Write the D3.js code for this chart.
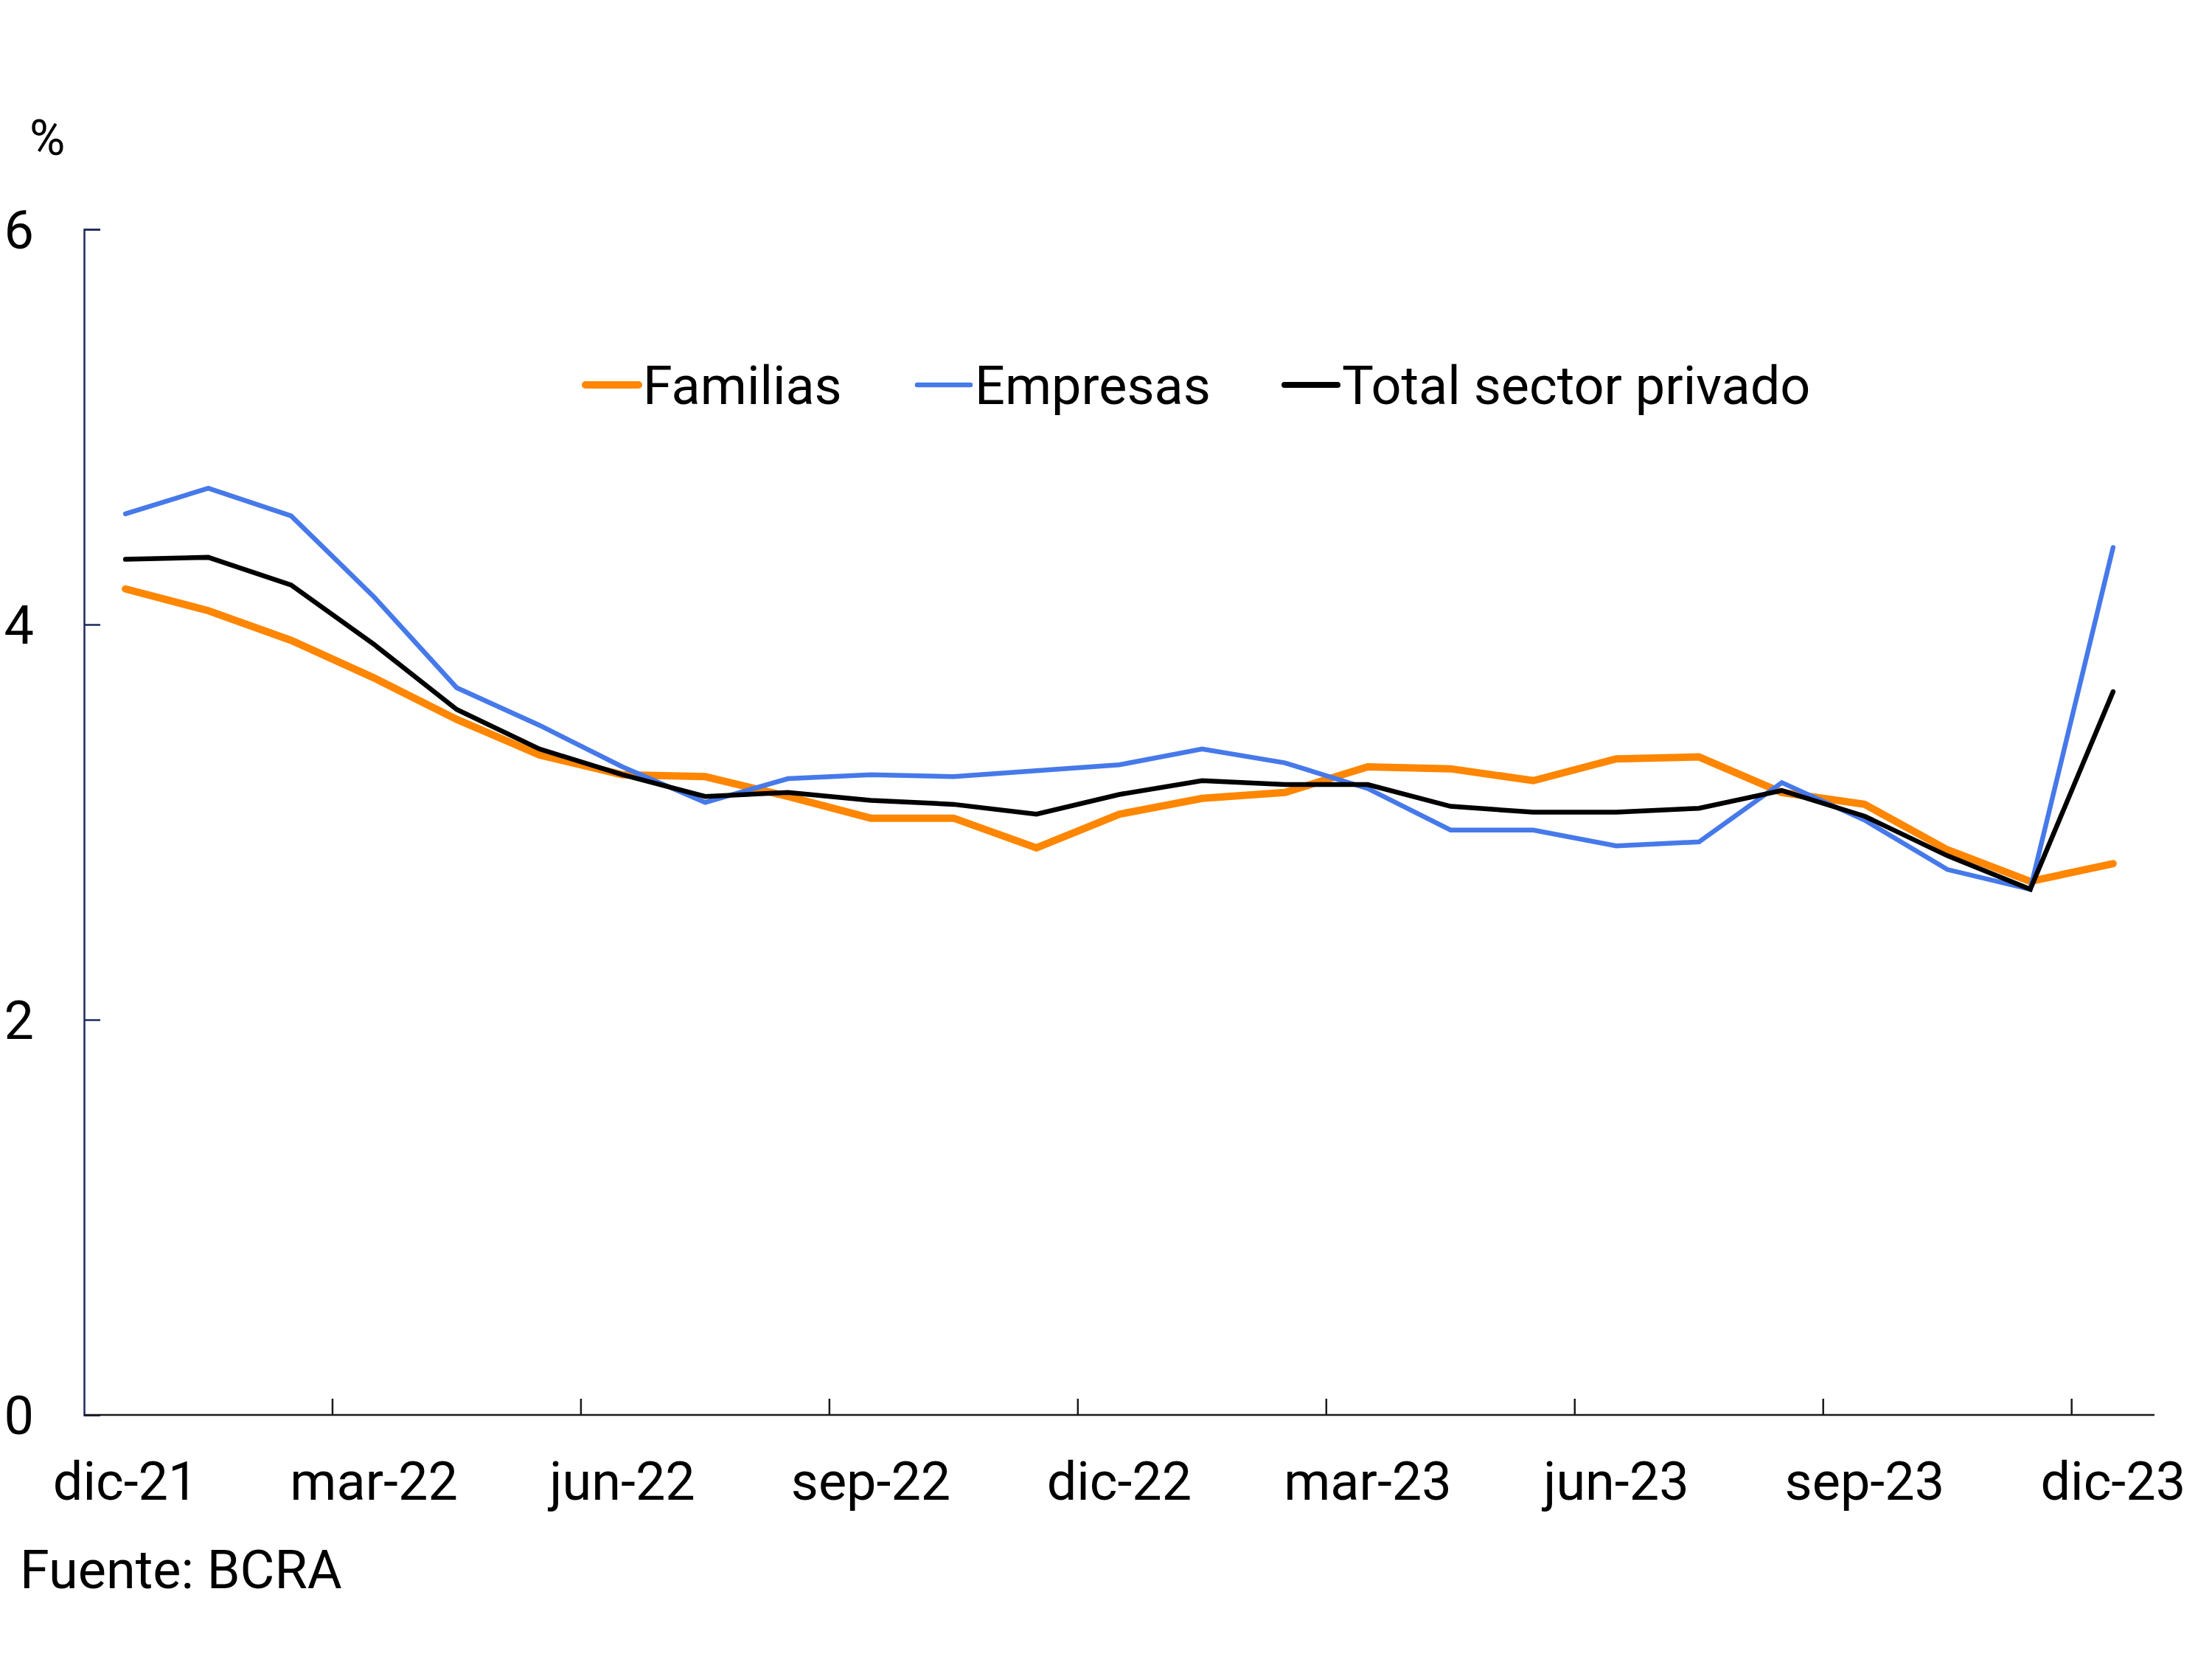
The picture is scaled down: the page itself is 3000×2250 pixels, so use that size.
<!DOCTYPE html>
<html>
<head>
<meta charset="utf-8">
<script src="https://cdn.jsdelivr.net/npm/d3@7"></script>
<style>
  html, body { margin: 0; padding: 0; background: #fff; }
  text { font-family: Roboto, "Noto Sans", sans-serif; }
</style>
</head>
<body>
<div id="app"></div>
<script>
// Monthly categories, dic-21 .. dic-23
const months = ["dic-21","ene-22","feb-22","mar-22","abr-22","may-22","jun-22","jul-22","ago-22","sep-22","oct-22","nov-22",
  "dic-22","ene-23","feb-23","mar-23","abr-23","may-23","jun-23","jul-23","ago-23","sep-23","oct-23","nov-23","dic-23"];
const tickLabels = ["dic-21","mar-22","jun-22","sep-22","dic-22","mar-23","jun-23","sep-23","dic-23"];
const yTicks = [0, 2, 4, 6];

const familias = [4.18, 4.07, 3.92, 3.73, 3.52, 3.34, 3.24, 3.23, 3.13, 3.02, 3.02, 2.87,
  3.04, 3.12, 3.15, 3.28, 3.27, 3.21, 3.32, 3.33, 3.15, 3.09, 2.86, 2.70, 2.79];
const empresas = [4.56, 4.69, 4.55, 4.14, 3.68, 3.49, 3.28, 3.10, 3.22, 3.24, 3.23, 3.26,
  3.29, 3.37, 3.30, 3.17, 2.96, 2.96, 2.88, 2.90, 3.20, 3.01, 2.76, 2.66, 4.39];
const total = [4.33, 4.34, 4.20, 3.90, 3.57, 3.37, 3.24, 3.13, 3.15, 3.11, 3.09, 3.04,
  3.14, 3.21, 3.19, 3.19, 3.08, 3.05, 3.05, 3.07, 3.16, 3.03, 2.83, 2.66, 3.66];

const seriesNames = ["Familias", "Empresas", "Total sector privado"];

function drawPlot(targetDiv) {
  const width = 3000, height = 2250;
  const svg = d3.select(targetDiv).append("svg")
    .attr("width", width)
    .attr("height", height)
    .attr("viewBox", [0, 0, width, height])
    .style("background", "#fff");

  const x = d3.scaleBand()
    .domain(months)
    .range([114, 2922]);
  const xc = d => x(d) + x.bandwidth() / 2;

  const y = d3.scaleLinear()
    .domain([0, 6])
    .range([1919, 311]);

  const series = [
    {name: seriesNames[0], values: familias, color: "#ff8600", width: 10},
    {name: seriesNames[1], values: empresas, color: "#4679e9", width: 6.5},
    {name: seriesNames[2], values: total, color: "#000000", width: 6.5}
  ];

  // y axis: line + inward ticks, labels on the far left
  const yAxis = svg.append("g")
    .attr("transform", `translate(${x.range()[0]},0)`)
    .call(d3.axisLeft(y).tickValues(yTicks).tickSize(-22).tickFormat(d3.format("d")));
  yAxis.select(".domain").attr("stroke", "#1c2a5c").attr("stroke-width", 2.5);
  yAxis.selectAll(".tick line").attr("stroke", "#1c2a5c").attr("stroke-width", 2.5);
  yAxis.selectAll(".tick text")
    .attr("x", -68)
    .attr("dy", "0.36em")
    .attr("fill", "#000")
    .style("font-size", "72px");

  // x axis: ticks between quarters, labels under the quarter months
  const boundaries = months.filter((m, i) => i % 3 === 2 && i < months.length - 1);
  const xAxis = svg.append("g")
    .attr("transform", `translate(0,${y(0)})`);
  xAxis.append("line")
    .attr("x1", x.range()[0]).attr("x2", x.range()[1])
    .attr("stroke", "#1a1a1a").attr("stroke-width", 2.5);
  xAxis.selectAll(".xtick")
    .data(boundaries)
    .join("line")
    .attr("class", "xtick")
    .attr("x1", d => x(d) + x.bandwidth()).attr("x2", d => x(d) + x.bandwidth())
    .attr("y1", 0).attr("y2", -22)
    .attr("stroke", "#1a1a1a").attr("stroke-width", 2.5);
  xAxis.selectAll(".xlabel")
    .data(tickLabels)
    .join("text")
    .attr("class", "xlabel")
    .attr("x", d => xc(d))
    .attr("y", 115)
    .attr("text-anchor", "middle")
    .style("font-size", "72px")
    .text(d => d);

  // lines
  const line = d3.line()
    .x((d, i) => xc(months[i]))
    .y(d => y(d));
  svg.append("g")
    .selectAll("path")
    .data(series)
    .join("path")
    .attr("d", d => line(d.values))
    .attr("fill", "none")
    .attr("stroke", d => d.color)
    .attr("stroke-width", d => d.width)
    .attr("stroke-linecap", "round")
    .attr("stroke-linejoin", "miter");

  // legend
  const legendX = [794, 1244, 1742];
  const legend = svg.append("g")
    .selectAll("g")
    .data(series)
    .join("g")
    .attr("transform", (d, i) => `translate(${legendX[i]},522)`);
  legend.append("line")
    .attr("x1", 0).attr("x2", 72)
    .attr("stroke", d => d.color)
    .attr("stroke-width", (d, i) => [10, 6.5, 8][i])
    .attr("stroke-linecap", "round");
  legend.append("text")
    .attr("x", 78)
    .attr("dy", "0.36em")
    .style("font-size", "72px")
    .text(d => d.name);

  // unit and source
  svg.append("text")
    .attr("x", 40).attr("y", 210)
    .style("font-size", "66px")
    .text("%");
  svg.append("text")
    .attr("x", 27).attr("y", 2154)
    .style("font-size", "72px")
    .text("Fuente: BCRA");
}

function main() {
  drawPlot("#app");
}

document.addEventListener("DOMContentLoaded", main);
</script>
</body>
</html>
